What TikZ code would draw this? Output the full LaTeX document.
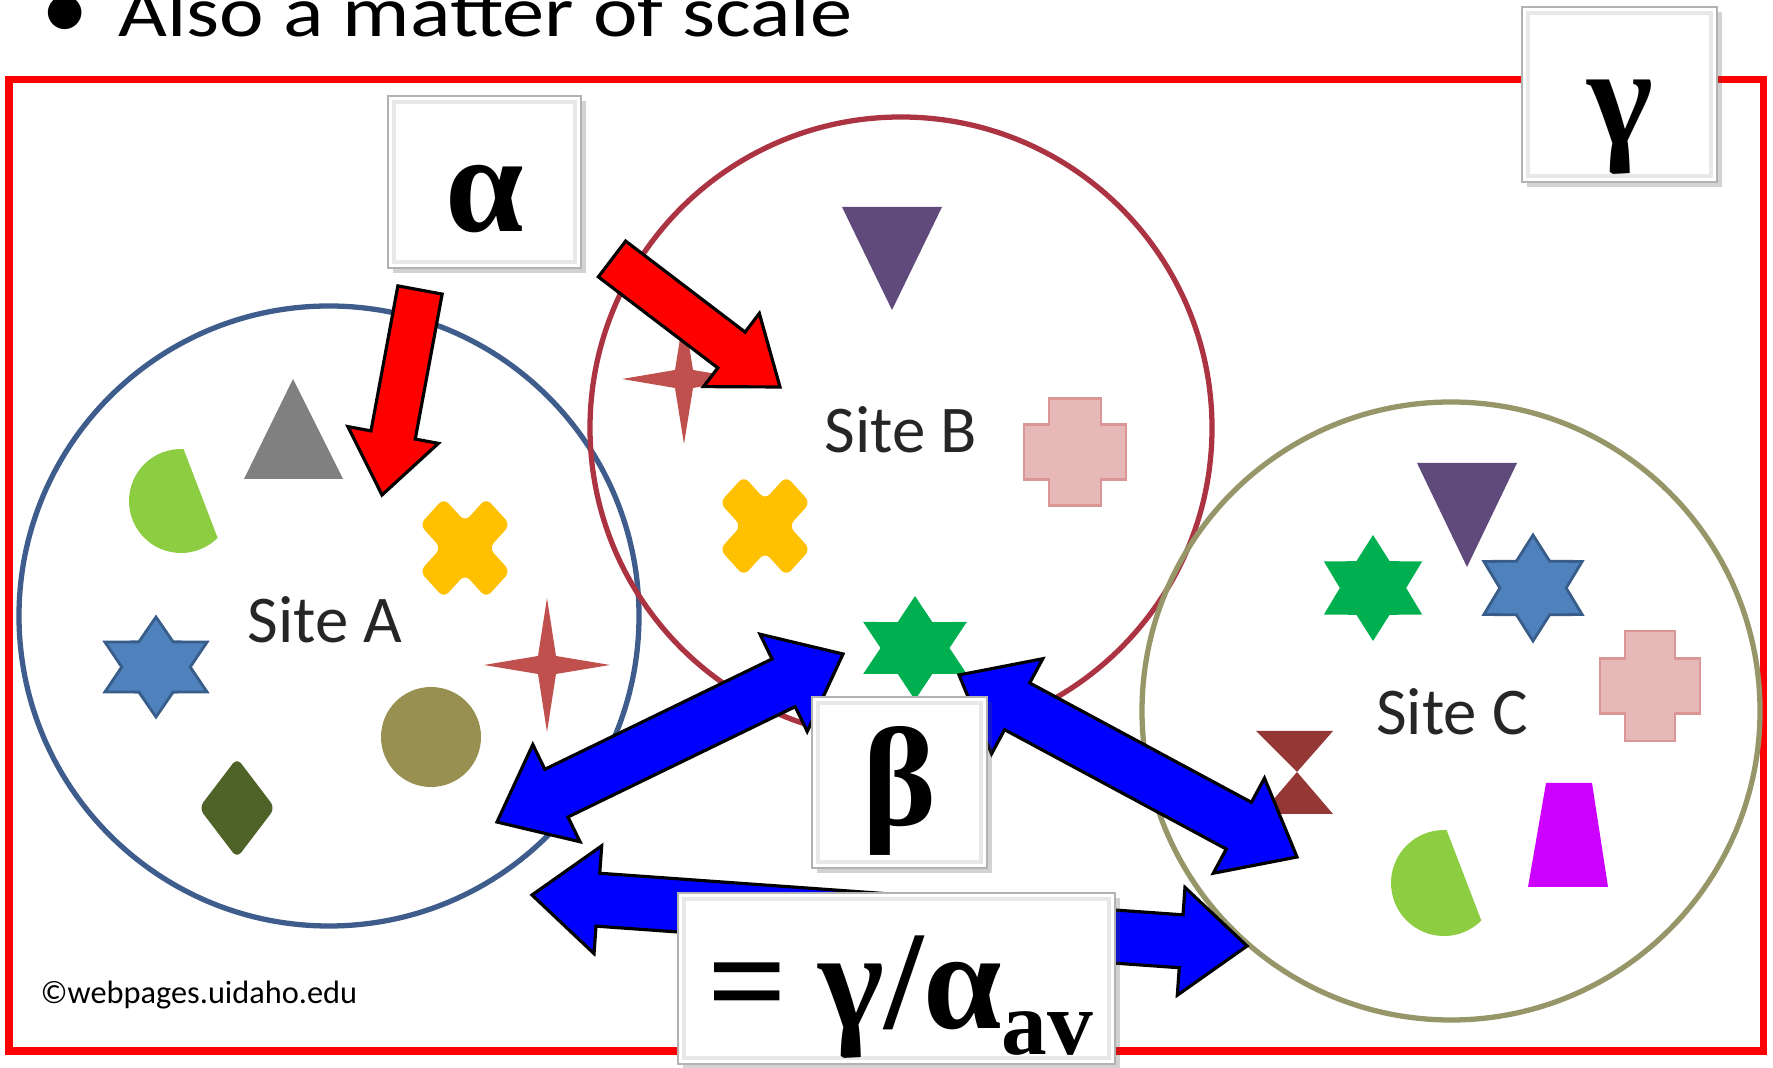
\documentclass[tikz,border=0pt]{standalone}
\usepackage{fontspec}
\usepackage{graphicx}
\setmainfont{Carlito}
\newfontfamily\grkfont{Liberation Serif}
\usetikzlibrary{calc,shadows}

\definecolor{circA}{RGB}{62,92,140}
\definecolor{circB}{RGB}{172,52,66}
\definecolor{circC}{RGB}{150,150,105}
\definecolor{gray1}{RGB}{128,128,128}
\definecolor{lgreen}{RGB}{140,205,65}
\definecolor{xyellow}{RGB}{255,192,0}
\definecolor{starblue}{RGB}{79,129,189}
\definecolor{starbluedk}{RGB}{56,93,138}
\definecolor{starred}{RGB}{192,80,77}
\definecolor{olive1}{RGB}{152,144,80}
\definecolor{dgreen}{RGB}{79,98,40}
\definecolor{purple1}{RGB}{96,74,123}
\definecolor{pinkfill}{RGB}{230,185,184}
\definecolor{pinkdraw}{RGB}{217,150,148}
\definecolor{stargreen}{RGB}{0,176,80}
\definecolor{brown1}{RGB}{149,55,53}
\definecolor{magenta1}{RGB}{204,0,255}

\tikzset{
  redarrow/.style={fill=red, draw=black, line width=0.9pt, line join=miter},
  bluearrow/.style={fill=blue, draw=black, line width=0.9pt, line join=miter},
  greekbox/.style={draw=gray!60, line width=0.7pt, fill=white,
    drop shadow={shadow xshift=1.5pt, shadow yshift=-1.5pt, fill=black!70, opacity=0.25}, inner sep=0pt},
  bevel/.style={draw=gray!18, line width=1.2pt},
  greek/.style={font=\grkfont\bfseries\fontsize{40}{44}\selectfont, inner sep=0pt},
  sitelabel/.style={font=\fontsize{19}{22}\selectfont, text=black!85, inner sep=0pt},
  sitecircle/.style={line width=1.5pt},
  bluehex/.style={fill=starblue, draw=starbluedk, line width=0.8pt},
  greenhex/.style={fill=stargreen},
}

% single block arrow: #1 tail, #2 tip, #3 shaft half width, #4 head half width, #5 head length, #6 style
\newcommand{\singleblockarrow}[6]{%
  \path ($(#2)!#5!(#1)$) coordinate (hbx);
  \draw[#6] ($(#1)!#3!90:(#2)$) -- ($(hbx)!#3!90:(#2)$) -- ($(hbx)!#4!90:(#2)$) -- (#2)
    -- ($(hbx)!#4!-90:(#2)$) -- ($(hbx)!#3!-90:(#2)$) -- ($(#1)!#3!-90:(#2)$) -- cycle;
}
% double block arrow: #1 tip, #2 tip, #3 shaft half, #4 head half, #5 head length, #6 style
\newcommand{\doubleblockarrow}[6]{%
  \path ($(#1)!#5!(#2)$) coordinate (hax) ($(#2)!#5!(#1)$) coordinate (hbx);
  \draw[#6] (#1) -- ($(hax)!#4!90:(#2)$) -- ($(hax)!#3!90:(#2)$) -- ($(hbx)!#3!90:(#2)$)
    -- ($(hbx)!#4!90:(#2)$) -- (#2) -- ($(hbx)!#4!-90:(#2)$) -- ($(hbx)!#3!-90:(#2)$)
    -- ($(hax)!#3!-90:(#2)$) -- ($(hax)!#4!-90:(#2)$) -- cycle;
}
% hexagram: x, y, R, r, xscale, style
\newcommand{\hexstar}[6]{%
  \path[#6, shift={(#1,#2)}, xscale=#5] (90:#3) -- (120:#4) -- (150:#3) -- (180:#4) -- (210:#3)
    -- (240:#4) -- (270:#3) -- (300:#4) -- (330:#3) -- (0:#4) -- (30:#3) -- (60:#4) -- cycle;
}
% four point star: x, y, Rx, Ry, inner
\newcommand{\fourstar}[5]{%
  \fill[starred, shift={(#1,#2)}] (#3,0) -- (#5,#5) -- (0,#4) -- (-#5,#5) -- (-#3,0)
    -- (-#5,-#5) -- (0,-#4) -- (#5,-#5) -- cycle;
}
% X cross: x, y, arm, half width, yscale
\newcommand{\xcross}[5]{%
  \fill[xyellow, rounded corners=2pt, shift={(#1,#2)}, yscale=#5, rotate=45]
    (-#4,-#3) -- (#4,-#3) -- (#4,-#4) -- (#3,-#4) -- (#3,#4) -- (#4,#4) -- (#4,#3)
    -- (-#4,#3) -- (-#4,#4) -- (-#3,#4) -- (-#3,-#4) -- (-#4,-#4) -- cycle;
}
% plus cross: x, y, arm, half width, yscale
\newcommand{\pcross}[5]{%
  \filldraw[fill=pinkfill, draw=pinkdraw, line width=0.8pt, shift={(#1,#2)}, yscale=#5]
    (-#4,-#3) -- (#4,-#3) -- (#4,-#4) -- (#3,-#4) -- (#3,#4) -- (#4,#4) -- (#4,#3)
    -- (-#4,#3) -- (-#4,#4) -- (-#3,#4) -- (-#3,-#4) -- (-#4,-#4) -- cycle;
}
% cut circle (D shape): x, y of circle centre, R, start angle, end angle
\newcommand{\cutdisc}[5]{%
  \fill[lgreen] (#1,#2) ++(#4:#3) arc[start angle=#4, end angle=#5, radius=#3] -- cycle;
}

\begin{document}
\begin{tikzpicture}[x=0.01cm, y=-0.01cm]
\useasboundingbox (0,0) rectangle (1773,1068);
\fill[white] (0,0) rectangle (1773,1068);
\clip (0,0) rectangle (1773,1068);

% title
\node[anchor=base, font=\fontsize{27}{30}\selectfont, inner sep=0pt] (bullet) at (65,40) {•};
\node[anchor=base west, font=\fontsize{24}{28}\selectfont, inner sep=0pt] (title) at (118,37) {\scalebox{1}[0.85]{Also a matter of scale}};

% frame
\draw[red, line width=0.07cm] (9,79.5) rectangle (1763.5,1051);

% circles
\draw[circA, sitecircle] (329,616) circle[radius=310];
\draw[circB, sitecircle] (901,428) circle[radius=311];
\draw[circC, sitecircle] (1451,711) circle[radius=309];

% Site A shapes
\fill[gray1] (293,379) -- (343,479) -- (244,479) -- cycle;
\cutdisc{181}{501}{52}{45.2}{272.8}
\xcross{465}{548}{47}{17}{1.1}
\hexstar{156}{667}{50}{29}{1.18}{bluehex}
\fourstar{547}{665}{63}{67}{9}
\fill[olive1] (431,737) circle[radius=50];
\fill[dgreen, rounded corners=2pt] (237,758) -- (275,808) -- (237,858) -- (199,808) -- cycle;
\node[sitelabel] (siteA) at (325,620) {Site A};

% Site B shapes
\fill[purple1] (842,207) -- (942,207) -- (892,310) -- cycle;
\fourstar{684}{379}{62}{65}{9}
\pcross{1075}{452}{51}{26}{1.05}
\xcross{765}{526}{47}{17}{1.1}
\hexstar{915}{648}{52}{30}{1.15}{greenhex}
\node[sitelabel] (siteB) at (901,430) {Site B};

% Site C shapes
\fill[purple1] (1417,463) -- (1517,463) -- (1467,567) -- cycle;
\hexstar{1373}{588}{53}{31}{1.07}{greenhex}
\hexstar{1533}{588}{53}{31}{1.07}{bluehex}
\pcross{1650}{686}{50}{25}{1.1}
\fill[brown1] (1256,731) -- (1333,731) -- (1297,772) -- (1333,814) -- (1261,814) -- (1297,772) -- cycle;
\fill[magenta1] (1546,783) -- (1592,783) -- (1608,887) -- (1528,887) -- cycle;
\cutdisc{1444}{883}{53}{45.2}{272.8}
\node[sitelabel] (siteC) at (1452,712) {Site C};

% copyright
\node[anchor=base west, font=\fontsize{9.2}{11}\selectfont, inner sep=0pt] (copy) at (40,1004) {©webpages.uidaho.edu};

% red arrows
\coordinate (ra1s) at (420,290);
\coordinate (ra1e) at (382,495);
\coordinate (ra2s) at (612,259);
\coordinate (ra2e) at (780,387);
\singleblockarrow{ra1s}{ra1e}{0.225cm}{0.46cm}{0.61cm}{redarrow}
\singleblockarrow{ra2s}{ra2e}{0.225cm}{0.46cm}{0.61cm}{redarrow}

% blue arrows
\coordinate (baA) at (497,822);
\coordinate (baB) at (843,654);
\coordinate (bbB) at (959,675);
\coordinate (bbC) at (1297,857);
\coordinate (bcA) at (532,895);
\coordinate (bcC) at (1247,946);
\doubleblockarrow{baA}{baB}{0.265cm}{0.54cm}{0.66cm}{bluearrow}
\doubleblockarrow{bbB}{bbC}{0.265cm}{0.54cm}{0.66cm}{bluearrow}
\doubleblockarrow{bcA}{bcC}{0.265cm}{0.54cm}{0.66cm}{bluearrow}

% greek boxes
\node[greekbox, minimum width=1.93cm, minimum height=1.72cm] (alphabox) at (484.5,182) {};
\draw[bevel] ([xshift=2pt,yshift=-2pt]alphabox.north west) rectangle ([xshift=-2pt,yshift=2pt]alphabox.south east);
\node[greek, anchor=base] (alphaT) at (485,232) {α};
\node[greekbox, minimum width=1.95cm, minimum height=1.75cm] (gammabox) at (1619.5,94.5) {};
\draw[bevel] ([xshift=2pt,yshift=-2pt]gammabox.north west) rectangle ([xshift=-2pt,yshift=2pt]gammabox.south east);
\node[greek, anchor=base] (gammaT) at (1620,145) {γ};
\node[greekbox, minimum width=1.75cm, minimum height=1.71cm] (betabox) at (899.5,782.5) {};
\draw[bevel] ([xshift=2pt,yshift=-2pt]betabox.north west) rectangle ([xshift=-2pt,yshift=2pt]betabox.south east);
\node[greek, anchor=base] (betaT) at (900,826) {β};
\node[greekbox, minimum width=4.37cm, minimum height=1.71cm] (eqbox) at (896.5,978.5) {};
\draw[bevel] ([xshift=2pt,yshift=-2pt]eqbox.north west) rectangle ([xshift=-2pt,yshift=2pt]eqbox.south east);
\node[greek, anchor=base] (eqT) at (900,1028) {=\hspace{0.22em}γ/α\raisebox{-7.5pt}{\fontsize{26}{28}\selectfont av}};
\end{tikzpicture}
\end{document}
